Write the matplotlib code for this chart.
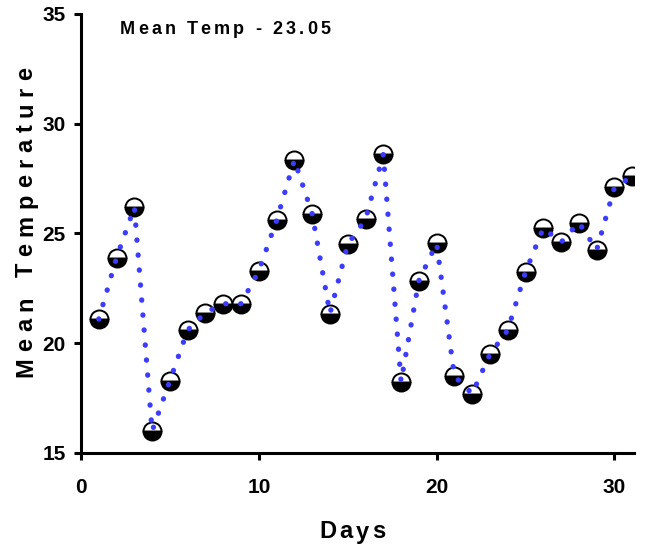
import numpy as np
import matplotlib
matplotlib.use('Agg')
import matplotlib.pyplot as plt
from matplotlib.font_manager import FontProperties

# daily mean temperature
days = list(range(1, 32))
temps = [21.1, 23.9, 26.2, 16.0, 18.3, 20.6, 21.4, 21.8, 21.8, 23.3,
         25.6, 28.35, 25.9, 21.35, 24.5, 25.65, 28.6, 18.25, 22.85, 24.55,
         18.5, 17.7, 19.5, 20.6, 23.25, 25.25, 24.6, 25.5, 24.25, 27.1,
         27.6]
mean_label = 'Mean Temp - 23.05'
x_label = 'Days'
y_label = 'Mean Temperature'
x_ticks = [0, 10, 20, 30]
y_ticks = [15, 20, 25, 30, 35]

W, H = 646, 548
plt.rcParams['font.family'] = ['Liberation Sans', 'DejaVu Sans']
plt.rcParams['font.weight'] = 'bold'

fig = plt.figure(figsize=(W / 100, H / 100), dpi=100)
ax = fig.add_axes([81 / W, 95 / H, 553 / W, 439 / H])


def tracked(s, cx, cy, size, span, vertical=False):
    # draw a string with extra letter spacing, centred on (cx, cy) in pixels
    r = fig.canvas.get_renderer()
    fp = FontProperties(family=['Liberation Sans', 'DejaVu Sans'], weight='bold', size=size)
    widths = [r.get_text_width_height_descent(c, fp, ismath=False)[0] for c in s]
    track = (span - sum(widths)) / (len(s) - 1)
    cap = 0.72 * size * 100 / 72
    pos = -span / 2
    for c, w in zip(s, widths):
        mid = pos + w / 2
        if vertical:
            fig.text((cx + cap / 2) / W, 1 - (cy - mid) / H, c, fontproperties=fp,
                     rotation=90, rotation_mode='anchor', ha='center', va='baseline')
        else:
            fig.text((cx + mid) / W, 1 - (cy + cap / 2) / H, c, fontproperties=fp,
                     ha='center', va='baseline')
        pos += w + track


ax.plot(days, temps, linestyle='none', marker='o', markersize=13,
        fillstyle='bottom', markerfacecolor='black', markerfacecoloralt='white',
        markeredgecolor='black', markeredgewidth=1.4, zorder=3)
ax.plot(days, temps, color='#3c3cff', linewidth=3.8, linestyle=(0, (0.05, 2.8)),
        dash_capstyle='round', zorder=4)

ax.set_xlim(0, 31.1)
ax.set_ylim(15, 35)
ax.set_xticks(x_ticks)
ax.set_yticks(y_ticks)
ax.spines['top'].set_visible(False)
ax.spines['right'].set_visible(False)
for s in ['left', 'bottom']:
    ax.spines[s].set_linewidth(2.2)
ax.tick_params(width=2.2, length=5, labelsize=15)
ax.tick_params(axis='x', pad=13)
ax.tick_params(axis='y', pad=6)
for lab in ax.get_xticklabels() + ax.get_yticklabels():
    lab.set_fontweight('bold')

tracked(mean_label, 225, 27, 13, 210)
tracked(x_label, 352, 530, 17, 66)
tracked(y_label, 24, 222, 17, 310, vertical=True)

plt.savefig('out.png', dpi=100)
